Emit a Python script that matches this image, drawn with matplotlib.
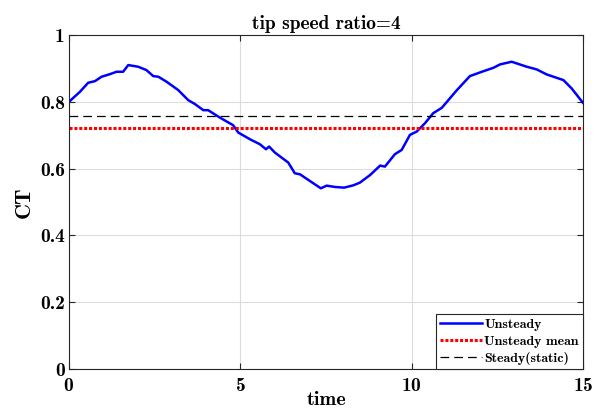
import numpy as np
import matplotlib
matplotlib.use("Agg")
import matplotlib.pyplot as plt

t = [0.00, 0.32, 0.56, 0.76, 0.95, 1.20, 1.39, 1.58, 1.73, 2.02, 2.26, 2.46, 2.61,
     2.85, 3.19, 3.48, 3.68, 3.92, 4.06, 4.40, 4.79, 4.94, 5.28, 5.57, 5.75, 5.84,
     6.01, 6.40, 6.59, 6.74, 7.03, 7.35, 7.52, 7.76, 8.03, 8.30, 8.49, 8.79, 9.08,
     9.22, 9.51, 9.71, 9.95, 10.15, 10.39, 10.63, 10.88, 11.32, 11.70, 12.05,
     12.39, 12.58, 12.92, 13.36, 13.65, 13.94, 14.43, 14.67, 15.00]
ct = [0.800, 0.830, 0.857, 0.862, 0.875, 0.883, 0.890, 0.890, 0.910, 0.905, 0.895,
      0.877, 0.875, 0.860, 0.835, 0.805, 0.793, 0.775, 0.775, 0.753, 0.730, 0.708,
      0.688, 0.673, 0.658, 0.666, 0.648, 0.618, 0.586, 0.583, 0.563, 0.541, 0.549,
      0.545, 0.543, 0.550, 0.558, 0.581, 0.609, 0.606, 0.643, 0.656, 0.701, 0.711,
      0.736, 0.766, 0.782, 0.835, 0.877, 0.890, 0.902, 0.912, 0.920, 0.905, 0.897,
      0.882, 0.865, 0.840, 0.797]
ct_mean = 0.7206
ct_steady = 0.758

font = "cmb10"
plt.rcParams["font.family"] = font
plt.rcParams["axes.formatter.use_mathtext"] = True

fig = plt.figure(figsize=(6.05, 4.12), dpi=100)
ax = fig.add_axes([0.114, 0.1044, 0.8496, 0.8106])

ax.plot(t, ct, color="blue", lw=1.8, label="Unsteady")
ax.plot([0, 15], [ct_mean, ct_mean], color="red", lw=2.2, ls=(0, (1, 0.6)), label="Unsteady mean")
ax.plot([0, 15], [ct_steady, ct_steady], color="black", lw=0.9, ls=(0, (7, 4)), label="Steady(static)")

ax.set_xlim(0, 15)
ax.set_ylim(0, 1)
ax.set_xticks([0, 5, 10, 15])
ax.set_yticks([0, 0.2, 0.4, 0.6, 0.8, 1])
ax.set_yticklabels(["0", "0.2", "0.4", "0.6", "0.8", "1"])
ax.grid(True, color="#dddddd", lw=0.8)
ax.set_axisbelow(True)
ax.tick_params(direction="in", top=True, right=True, length=4, color="#262626",
               labelsize=14, width=0.8)
ax.tick_params(axis="x", pad=6)
ax.tick_params(axis="y", pad=3)
for s in ax.spines.values():
    s.set_color("#262626")
    s.set_linewidth(0.8)

ax.set_title("tip speed ratio=4", fontsize=14, pad=4)
ax.set_xlabel("time", fontsize=14.5, labelpad=-3)
ax.set_ylabel("CT", fontsize=16, labelpad=4)

leg = ax.legend(loc="lower right", fontsize=10, borderaxespad=0, fancybox=False,
                framealpha=1, edgecolor="#262626", handlelength=3.0,
                handletextpad=0.2, borderpad=0.3, labelspacing=0.3)
leg.get_frame().set_linewidth(0.8)

fig.savefig("out.png", dpi=100)
